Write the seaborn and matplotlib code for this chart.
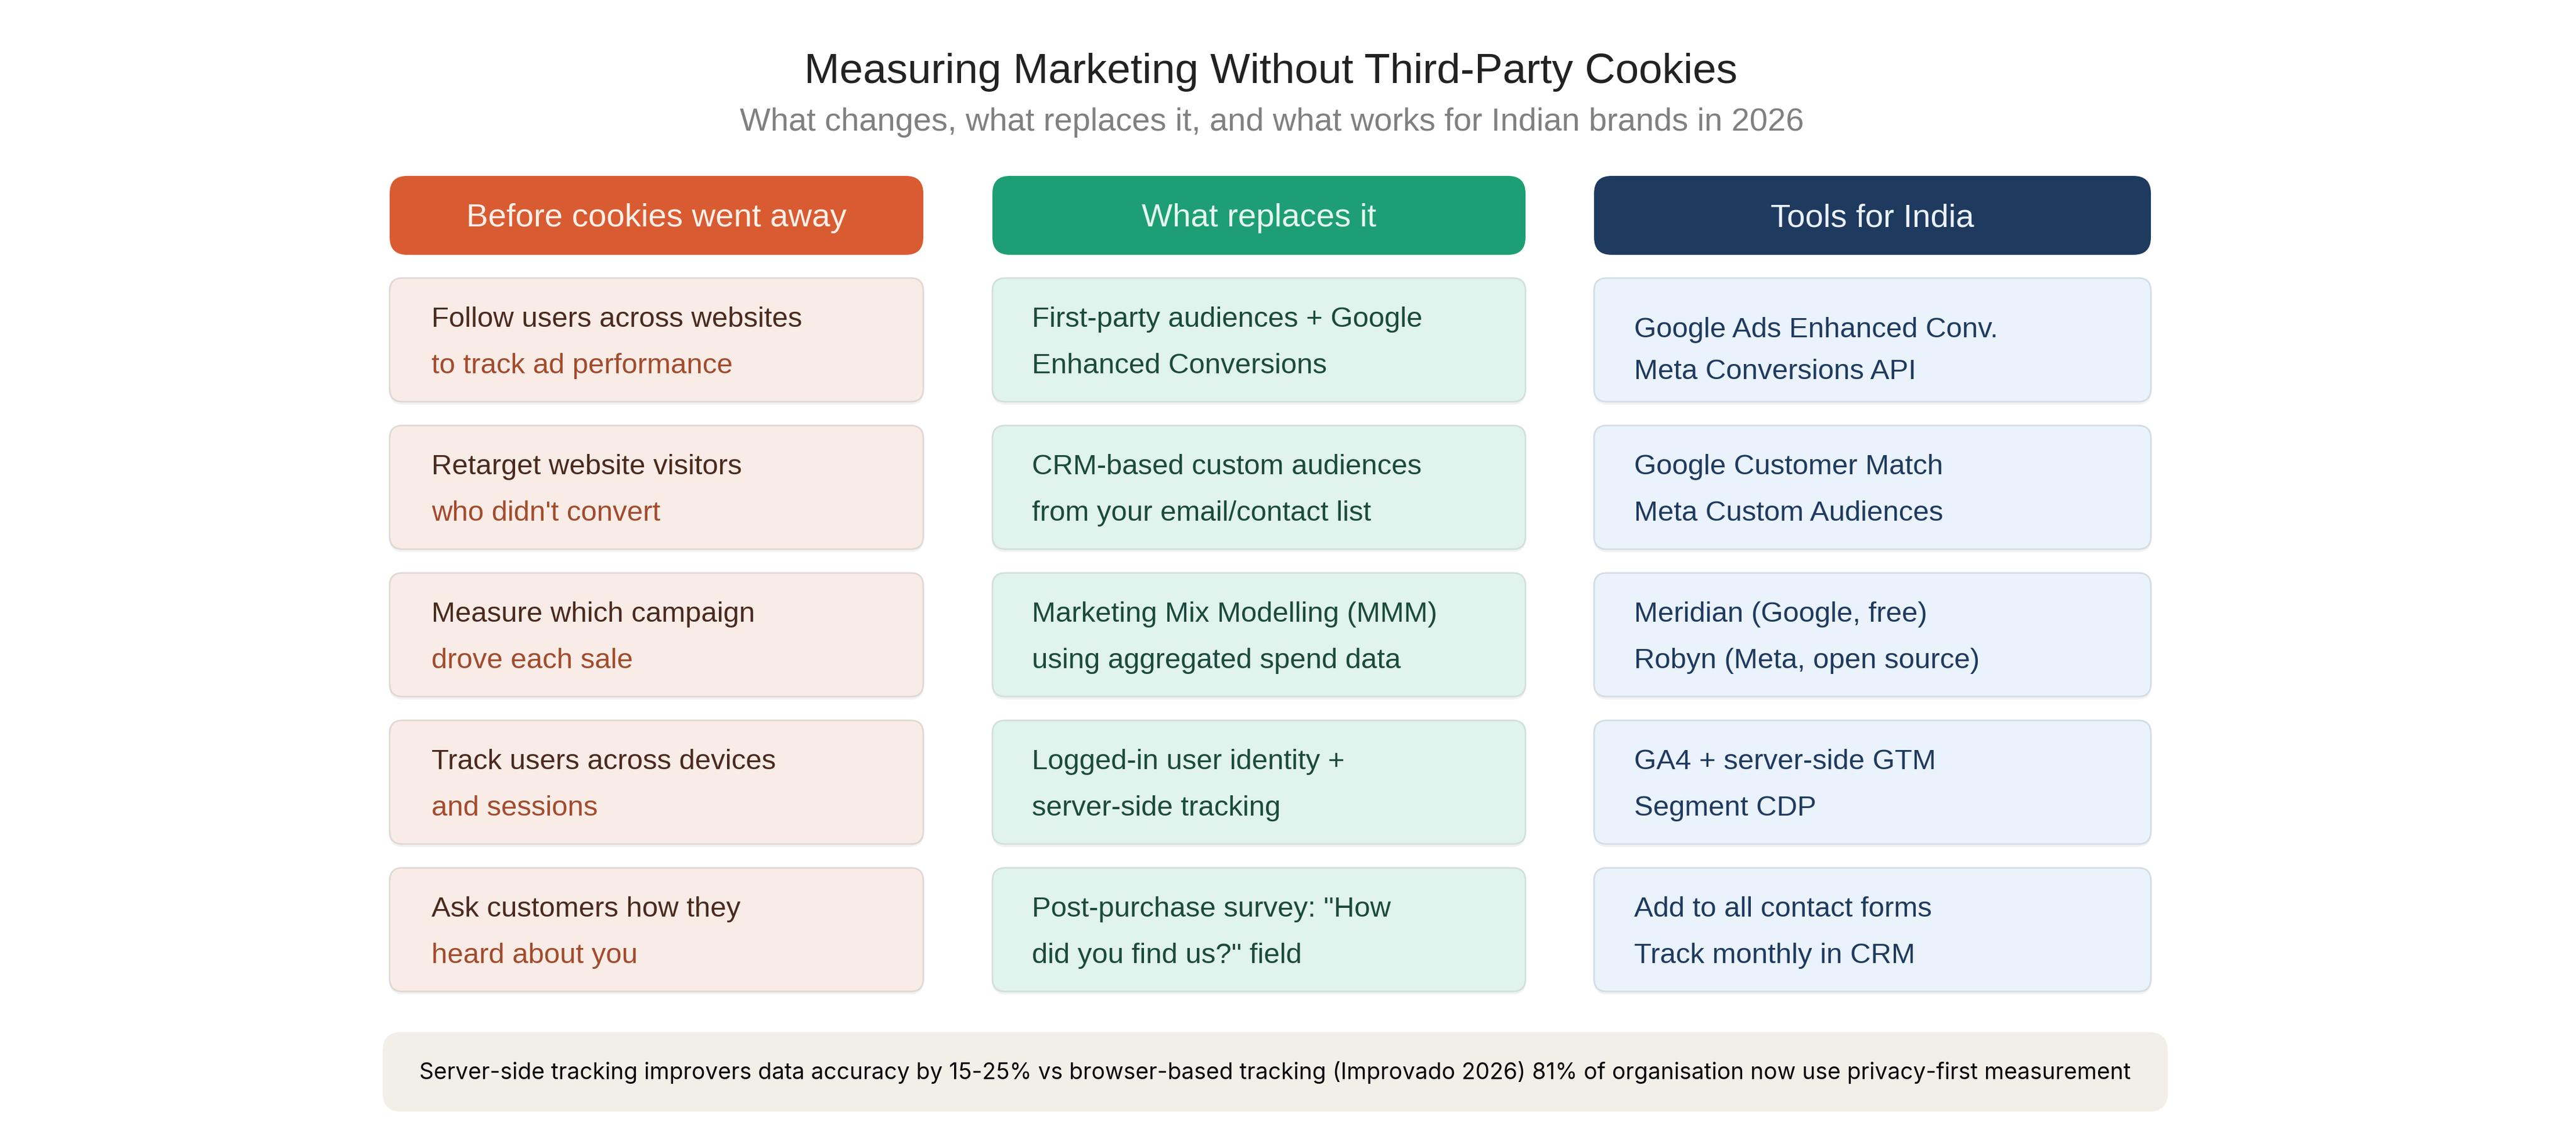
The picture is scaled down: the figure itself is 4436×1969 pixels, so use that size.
import matplotlib.pyplot as plt
import seaborn as sns
from matplotlib.patches import FancyBboxPatch

# ---- chart content ----
title = "Measuring Marketing Without Third-Party Cookies"
subtitle = "What changes, what replaces it, and what works for Indian brands in 2026"
headers = ["Before cookies went away", "What replaces it", "Tools for India"]

before_top = ["Follow users across websites", "Retarget website visitors",
              "Measure which campaign", "Track users across devices",
              "Ask customers how they"]
before_bottom = ["to track ad performance", "who didn't convert",
                 "drove each sale", "and sessions", "heard about you"]

replace_top = ["First-party audiences + Google", "CRM-based custom audiences",
               "Marketing Mix Modelling (MMM)", "Logged-in user identity +",
               'Post-purchase survey: "How']
replace_bottom = ["Enhanced Conversions", "from your email/contact list",
                  "using aggregated spend data", "server-side tracking",
                  'did you find us?" field']

tools_top = ["Google Ads Enhanced Conv.", "Google Customer Match",
             "Meridian (Google, free)", "GA4 + server-side GTM",
             "Add to all contact forms"]
tools_bottom = ["Meta Conversions API", "Meta Custom Audiences",
                "Robyn (Meta, open source)", "Segment CDP",
                "Track monthly in CRM"]

footer = ("Server-side tracking improvers data accuracy by 15-25% vs "
          "browser-based tracking (Improvado 2026) 81% of organisation "
          "now use privacy-first measurement")

# ---- styling ----
W, H, DPI = 4436, 1969, 200
header_colors = ["#d95b32", "#1e9e75", "#1f3a5f"]
header_text = ["#fdf0e8", "#e4f7ef", "#eaf1fa"]
card_fill = ["#f9ece7", "#e0f3ec", "#eaf2fb"]
card_edge = ["#e0d8d5", "#d2e0da", "#d5dce4"]
top_color = ["#4a2a1f", "#1b4a3c", "#1f3a5f"]
bottom_color = ["#a24b2d", "#1b4a3c", "#1f3a5f"]

sns.set_theme(style="white")
plt.rcParams['font.family'] = ['Liberation Sans', 'DejaVu Sans']

fig = plt.figure(figsize=(W / DPI, H / DPI), dpi=DPI)
fig.patch.set_facecolor("white")
ax = fig.add_axes([0, 0, 1, 1])
ax.set_xlim(0, W)
ax.set_ylim(H, 0)
ax.axis("off")


def rbox(x0, y0, x1, y1, fc, ec="none", r=22, lw=0.0, z=1):
    p = FancyBboxPatch((x0, y0), x1 - x0, y1 - y0,
                       boxstyle=f"round,pad=0,rounding_size={r}",
                       fc=fc, ec=ec, lw=lw, zorder=z)
    ax.add_patch(p)


# title block
ax.text(2188, 124, title, ha="center", va="center", fontsize=26.2,
        color="#222222")
ax.text(2190, 211, subtitle, ha="center", va="center", fontsize=20.15,
        color="#808080")

cols = [(671, 1590), (1709, 2627), (2745, 3704)]
text_pad = [72, 68, 69]
tops = [before_top, replace_top, tools_top]
bottoms = [before_bottom, replace_bottom, tools_bottom]

card_y0, card_h, card_step = 479, 213, 254

for c, (x0, x1) in enumerate(cols):
    # column header
    rbox(x0, 303, x1, 439, header_colors[c], r=30, z=2)
    ax.text((x0 + x1) / 2, 376, headers[c], ha="center", va="center",
            fontsize=20.3, color=header_text[c], zorder=3)

    for i, (t1, t2) in enumerate(zip(tops[c], bottoms[c])):
        y0 = card_y0 + i * card_step
        y1 = y0 + card_h
        # soft shadow under the card
        rbox(x0, y0 + 5, x1, y1 + 5, "#0000000d", r=22, z=1)
        rbox(x0, y0, x1, y1, card_fill[c], ec=card_edge[c], lw=1.0, z=2)
        cy = (y0 + y1) / 2 + 5
        gap = 40
        if c == 2 and i == 0:
            cy += 14
            gap = 36
        ax.text(x0 + text_pad[c], cy - gap, t1, ha="left", va="center",
                fontsize=17.7, color=top_color[c], zorder=3)
        ax.text(x0 + text_pad[c], cy + gap, t2, ha="left", va="center",
                fontsize=17.7, color=bottom_color[c], zorder=3)

# footer note
rbox(659, 1778, 3733, 1915, "#f2efe9", r=32, z=1)
ax.text(2196, 1847, footer, ha="center", va="center", fontsize=14.0,
        color="#0a0a0a", family=["Inter", "DejaVu Sans"])

fig.savefig("out.png", dpi=DPI, facecolor="white")
